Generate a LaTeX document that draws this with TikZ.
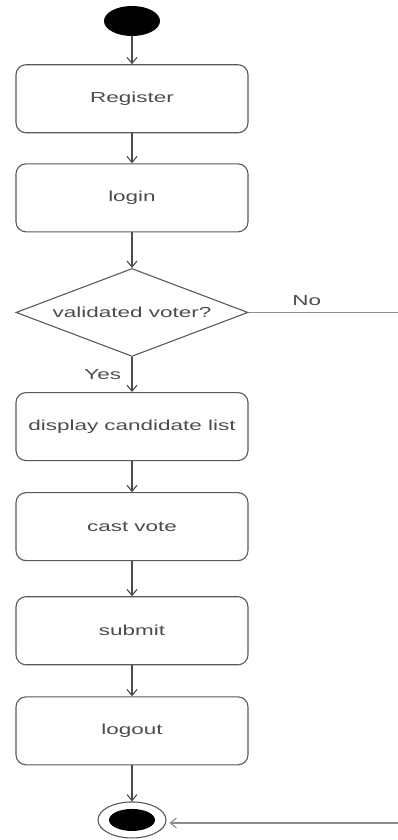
\documentclass[tikz,border=0pt]{standalone}
\usepackage{fontspec}
\setmainfont{Liberation Sans}[FakeStretch=1.55]
\usetikzlibrary{positioning,shapes.geometric,arrows.meta}

\begin{document}
\begin{tikzpicture}[x=1pt, y=-1pt, every node/.style={font=\fontsize{14.5}{17}\selectfont, text=black!70}]
  \tikzstyle{act}=[draw=black!65, line width=1.1pt, rounded corners=10pt, minimum width=232pt, minimum height=68pt, inner sep=0pt]
  \tikzstyle{trans}=[draw=black!70, line width=1.1pt, -{Straight Barb[length=6pt,width=10pt]}]

\useasboundingbox (0,0) rectangle (398,840);

\node [ellipse, fill=black, minimum width=56pt, minimum height=30pt, inner sep=0pt] (start) at (132,21) {};
\node [act, below=28pt of start] (register) {Register};
\node [act, below=30pt of register] (login) {login};
\node [diamond, aspect=2.6, draw=black!65, line width=1.1pt, minimum width=232pt, minimum height=88pt, inner sep=0pt, below=35.5pt of login] (valid) {validated voter?};
\node [act, below=35pt of valid] (display) {display candidate list};
\node [act, below=31pt of display] (cast) {cast vote};
\node [act, below=35pt of cast] (submit) {submit};
\node [act, below=31pt of submit] (logout) {logout};
\node [ellipse, draw=black!65, line width=1.1pt, minimum width=68pt, minimum height=36pt, inner sep=0pt, below=36pt of logout] (final) {};
\node [ellipse, fill=black, minimum width=46pt, minimum height=22pt, inner sep=0pt] (final_in) at (final) {};

\coordinate (rim) at (398,0);
\coordinate (noend) at (valid.east -| rim);
\coordinate (back) at ([yshift=-3pt]final.east -| rim);

\draw[trans] (start) -- (register);
\draw[trans] (register) -- (login);
\draw[trans] (login) -- (valid);
\draw[trans] (valid) -- node [left=7pt] {Yes} (display);
\draw[trans] (display) -- (cast);
\draw[trans] (cast) -- (submit);
\draw[trans] (submit) -- (logout);
\draw[trans] (logout) -- (final);

% the No branch leaves the page and comes back to the end node
\draw[draw=black!45, line width=1.1pt] (valid.east) -- node [pos=0.39, above=3pt] {No} (noend);
\draw[trans, draw=black!45, shorten >=3pt] (back) -- (back -| final.east);

\end{tikzpicture}
\end{document}
